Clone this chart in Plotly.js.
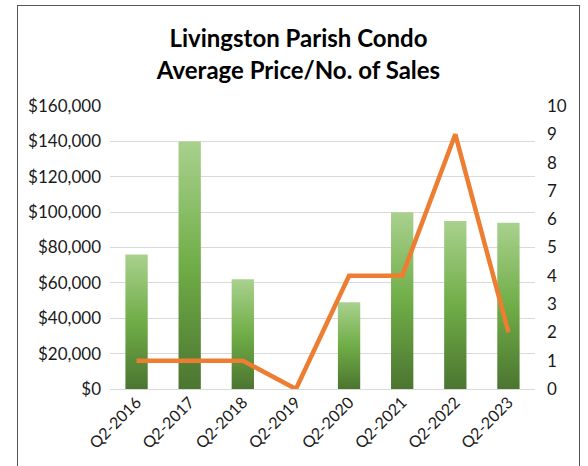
<!DOCTYPE html>
<html>
<head>
<meta charset="utf-8">
<script src="https://cdn.plot.ly/plotly-3.0.1.min.js"></script>
<style>
html,body{margin:0;padding:0;background:#fff;width:588px;height:466px;overflow:hidden;}
#frame{position:absolute;left:17px;top:5px;width:561px;height:475px;border:1px solid #555;box-sizing:content-box;overflow:hidden;}
#chart{width:561px;height:475px;}
</style>
</head>
<body>
<div id="frame"><div id="chart"></div></div>
<script>
const categories = ["Q2-2016","Q2-2017","Q2-2018","Q2-2019","Q2-2020","Q2-2021","Q2-2022","Q2-2023"];
const averagePrice = [76000, 140000, 62000, 0, 49000, 100000, 95000, 94000];
const numberOfSales = [1, 1, 1, 0, 4, 4, 9, 2];
const priceTickValues = [0,20000,40000,60000,80000,100000,120000,140000,160000];
const priceTickLabels = ["$0","$20,000","$40,000","$60,000","$80,000","$100,000","$120,000","$140,000","$160,000"];
const salesTickValues = [0,1,2,3,4,5,6,7,8,9,10];

const font = "Lato, 'Open Sans', 'Liberation Sans', sans-serif";

const traces = [
  {
    type: "bar",
    x: categories,
    y: averagePrice,
    name: "Average Price",
    marker: {color: "#70ad47", line: {width: 0}},
    width: 0.42,
    yaxis: "y",
    hoverinfo: "x+y"
  },
  {
    type: "scatter",
    mode: "lines",
    x: categories,
    y: numberOfSales,
    name: "No. of Sales",
    line: {color: "#ed7d31", width: 4.5},
    yaxis: "y2"
  }
];

const layout = {
  width: 561,
  height: 475,
  margin: {l: 92, r: 44, t: 100, b: 92},
  paper_bgcolor: "#fff",
  plot_bgcolor: "#fff",
  showlegend: false,
  title: {
    text: "<b>Livingston Parish Condo<br>Average Price/No. of Sales</b>",
    font: {family: font, size: 24, color: "#000"},
    x: 0.5, xanchor: "center",
    yref: "container",
    y: 0.913, yanchor: "top"
  },
  font: {family: font, size: 16, color: "#1a1a1a"},
  xaxis: {
    type: "category",
    tickangle: -45,
    showgrid: false,
    zeroline: false,
    showline: false,
    ticks: "",
    tickfont: {family: font, size: 16, color: "#1a1a1a"}
  },
  yaxis: {
    range: [0, 160000],
    tickvals: priceTickValues,
    ticktext: priceTickLabels,
    showgrid: true,
    gridcolor: "#d9d9d9",
    gridwidth: 1,
    zeroline: true,
    zerolinecolor: "#d9d9d9",
    showline: false,
    ticks: "",
    ticklabelstandoff: 8,
    tickfont: {family: font, size: 17, color: "#1a1a1a"}
  },
  yaxis2: {
    range: [0, 10],
    tickvals: salesTickValues,
    overlaying: "y",
    side: "right",
    showgrid: false,
    zeroline: false,
    showline: false,
    ticks: "",
    ticklabelstandoff: 11,
    tickfont: {family: font, size: 17, color: "#1a1a1a"}
  },
  bargap: 0.58
};

Plotly.newPlot("chart", traces, layout, {displayModeBar: false, staticPlot: true}).then(function(gd){
  const svg = gd.querySelector("svg.main-svg");
  const ns = "http://www.w3.org/2000/svg";
  let defs = svg.querySelector("defs");
  if (!defs) { defs = document.createElementNS(ns, "defs"); svg.insertBefore(defs, svg.firstChild); }
  const grad = document.createElementNS(ns, "linearGradient");
  grad.setAttribute("id", "barGrad");
  grad.setAttribute("x1", "0"); grad.setAttribute("y1", "0");
  grad.setAttribute("x2", "0"); grad.setAttribute("y2", "1");
  [["0%","#a9d18e"],["50%","#70ad47"],["100%","#4b7530"]].forEach(function(s){
    const st = document.createElementNS(ns, "stop");
    st.setAttribute("offset", s[0]);
    st.setAttribute("stop-color", s[1]);
    grad.appendChild(st);
  });
  defs.appendChild(grad);
  gd.querySelectorAll(".barlayer .point path").forEach(function(p){
    p.style.fill = "url(#barGrad)";
  });
});
</script>
</body>
</html>
